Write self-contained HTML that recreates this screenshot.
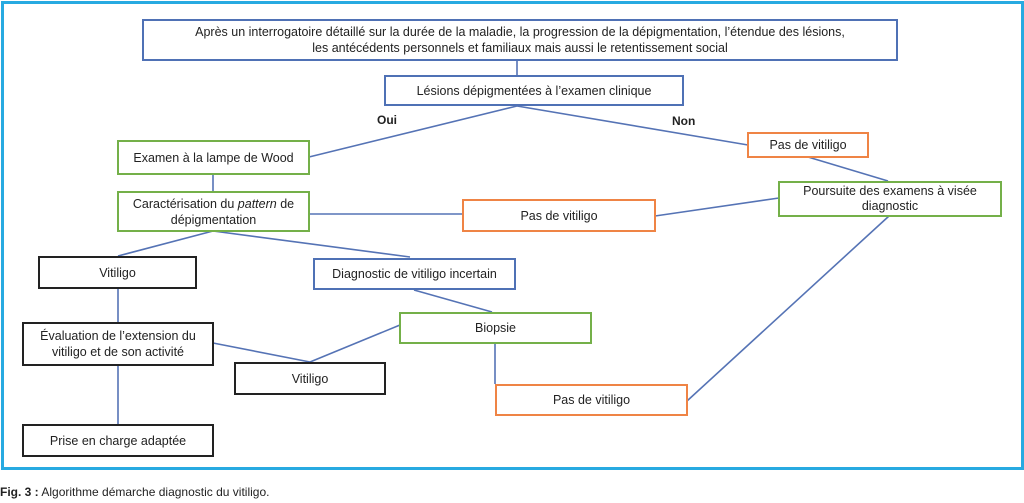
<!DOCTYPE html>
<html><head><meta charset="utf-8"><style>
body{margin:0;width:1024px;height:503px;background:#fff;position:relative;overflow:hidden;font-family:"Liberation Sans",sans-serif;color:#222;}
.f{position:absolute;left:1px;top:1px;width:1017px;height:463px;border:3px solid #27aae1;}
.b{position:absolute;box-sizing:border-box;border:2px solid;background:#fff;display:flex;align-items:center;justify-content:center;text-align:center;font-size:12.5px;line-height:16px;}
.bl{border-color:#4f71b5}.g{border-color:#74b049}.o{border-color:#ef8445}.k{border-color:#222}
svg{position:absolute;left:0;top:0}
.t{position:absolute;font-size:12px;font-weight:bold}
</style></head><body>
<div class="f"></div>
<svg width="1024" height="503"><g stroke="#5573b5" stroke-width="1.6" fill="none">
<line x1="517" y1="61" x2="517" y2="76"/>
<line x1="517" y1="106" x2="309" y2="157"/>
<line x1="517" y1="106" x2="748" y2="145"/>
<line x1="213" y1="175" x2="213" y2="191"/>
<line x1="309" y1="214" x2="462" y2="214"/>
<line x1="655" y1="216" x2="779" y2="198"/>
<line x1="808" y1="157" x2="888" y2="181"/>
<line x1="213" y1="231" x2="118" y2="256"/>
<line x1="213" y1="231" x2="410" y2="257"/>
<line x1="118" y1="288" x2="118" y2="322"/>
<line x1="414" y1="290" x2="492" y2="312"/>
<line x1="400" y1="325" x2="310" y2="362"/>
<line x1="213" y1="343" x2="310" y2="362"/>
<line x1="495" y1="344" x2="495" y2="384"/>
<line x1="687" y1="401" x2="889" y2="216"/>
<line x1="118" y1="365" x2="118" y2="424"/>
</g></svg>
<div class="b bl" style="left:142px;top:19px;width:756px;height:42px"><span>Après un interrogatoire détaillé sur la durée de la maladie, la progression de la dépigmentation, l’étendue des lésions,<br>les antécédents personnels et familiaux mais aussi le retentissement social</span></div>
<div class="b bl" style="left:384px;top:75px;width:300px;height:31px"><span>Lésions dépigmentées à l’examen clinique</span></div>
<div class="t" style="left:377px;top:113px">Oui</div>
<div class="t" style="left:672px;top:114px">Non</div>
<div class="b g" style="left:117px;top:140px;width:193px;height:35px"><span>Examen à la lampe de Wood</span></div>
<div class="b g" style="left:117px;top:191px;width:193px;height:41px"><span>Caractérisation du <i>pattern</i> de<br>dépigmentation</span></div>
<div class="b o" style="left:462px;top:199px;width:194px;height:33px"><span>Pas de vitiligo</span></div>
<div class="b o" style="left:747px;top:132px;width:122px;height:26px"><span>Pas de vitiligo</span></div>
<div class="b g" style="left:778px;top:181px;width:224px;height:36px;line-height:15px"><span>Poursuite des examens à visée<br>diagnostic</span></div>
<div class="b k" style="left:38px;top:256px;width:159px;height:33px"><span>Vitiligo</span></div>
<div class="b bl" style="left:313px;top:258px;width:203px;height:32px"><span>Diagnostic de vitiligo incertain</span></div>
<div class="b g" style="left:399px;top:312px;width:193px;height:32px"><span>Biopsie</span></div>
<div class="b k" style="left:22px;top:322px;width:192px;height:44px"><span>Évaluation de l’extension du<br>vitiligo et de son activité</span></div>
<div class="b k" style="left:234px;top:362px;width:152px;height:33px"><span>Vitiligo</span></div>
<div class="b o" style="left:495px;top:384px;width:193px;height:32px"><span>Pas de vitiligo</span></div>
<div class="b k" style="left:22px;top:424px;width:192px;height:33px"><span>Prise en charge adaptée</span></div>
<div style="position:absolute;left:0;top:485px;font-size:12px"><b>Fig. 3 :</b> Algorithme démarche diagnostic du vitiligo.</div>
</body></html>
